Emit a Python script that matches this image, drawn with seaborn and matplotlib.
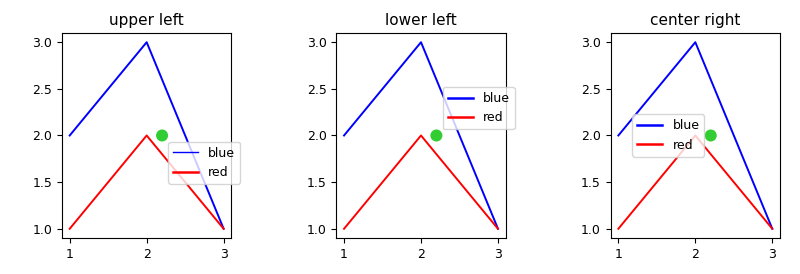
import matplotlib
matplotlib.use("Agg")
import matplotlib.pyplot as plt
from matplotlib.lines import Line2D
import seaborn as sns
import pandas as pd

x_vals = [1, 2, 3]
blue_vals = [2, 3, 1]
red_vals = [1, 2, 1]
anchor_x = [2.2]
anchor_y = [2.0]
locations = ["upper left", "lower left", "center right"]
series_labels = ["blue", "red"]
y_ticks = [1.0, 1.5, 2.0, 2.5, 3.0]
x_ticks = [1, 2, 3]

df_blue = pd.DataFrame({"x": x_vals, "y": blue_vals})
df_red = pd.DataFrame({"x": x_vals, "y": red_vals})
df_pt = pd.DataFrame({"x": anchor_x, "y": anchor_y})

plt.rcParams["xtick.labelsize"] = 9
plt.rcParams["ytick.labelsize"] = 9

fig, axs = plt.subplots(1, 3, figsize=(8, 2.74), dpi=100)
fig.subplots_adjust(left=0.0775, right=0.975, top=0.88, bottom=0.131, wspace=0.62)

for i, (ax, loc) in enumerate(zip(axs, locations)):
    sns.lineplot(data=df_blue, x="x", y="y", color="blue", ax=ax, sort=False, linewidth=1.4)
    sns.lineplot(data=df_red, x="x", y="y", color="red", ax=ax, sort=False, linewidth=1.4)
    sns.scatterplot(data=df_pt, x="x", y="y", color="limegreen", s=75, edgecolor="none", ax=ax, zorder=3)
    ax.set_xticks(x_ticks)
    ax.set_yticks(y_ticks)
    ax.set_xlabel("")
    ax.set_ylabel("")
    ax.set_title(loc, fontsize=11)
    blue_lw = 1.0 if i == 0 else 1.8
    handles = [Line2D([], [], color="blue", linewidth=blue_lw),
               Line2D([], [], color="red", linewidth=1.8)]
    ax.legend(handles, series_labels, loc=loc, fontsize=9,
              bbox_to_anchor=(anchor_x[0], anchor_y[0]), bbox_transform=ax.transData)

fig.savefig("out.png", dpi=100)
